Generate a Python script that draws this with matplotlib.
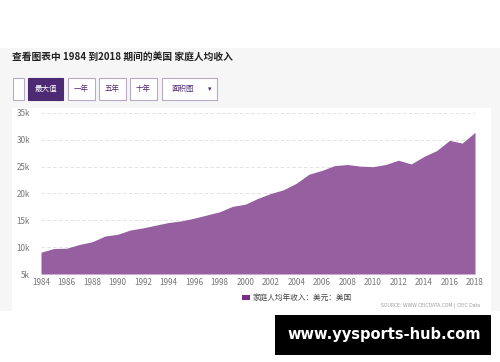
import matplotlib
matplotlib.use("Agg")
import matplotlib.pyplot as plt
from matplotlib.patches import Rectangle

plt.rcParams['font.family'] = ['Noto Sans CJK SC', 'DejaVu Sans']

# Household income per capita, USD
years = list(range(1984, 2019))
income = [9060, 9750, 9800, 10500, 11000, 12060, 12400, 13200, 13600, 14100,
          14600, 14900, 15400, 16000, 16600, 17600, 18000, 19100, 20000, 20700,
          21900, 23600, 24300, 25200, 25400, 25100, 25000, 25400, 26200, 25500,
          26900, 28000, 29900, 29400, 31400]
y_ticks = [5000, 10000, 15000, 20000, 25000, 30000, 35000]
y_labels = ["5k", "10k", "15k", "20k", "25k", "30k", "35k"]
x_ticks = list(range(1984, 2019, 2))

title = "查看图表中 1984 到2018 期间的美国 家庭人均收入"
buttons = ["", "最大值", "一年", "五年", "十年", "面积图"]
legend_label = "家庭人均年收入：美元：美国"
source = "SOURCE: WWW.CEICDATA.COM | CEIC Data"
watermark = "www.yysports-hub.com"

W, H = 500, 362
fig = plt.figure(figsize=(W / 100, H / 100), dpi=100)
fig.patch.set_facecolor("white")

# background layer in pixel coordinates
bg = fig.add_axes([0, 0, 1, 1])
bg.set_xlim(0, W)
bg.set_ylim(H, 0)
bg.axis("off")
bg.add_patch(Rectangle((0, 48), W, 263, facecolor="#f6f6f6", edgecolor="none"))
bg.add_patch(Rectangle((12, 108), 479, 203, facecolor="white", edgecolor="none"))
bg.text(12, 57, title, fontsize=7.0, fontweight="bold", color="#222222", va="center")

btn_x = [(12.5, 24), (28, 63), (68, 95), (99, 126), (130, 157), (162, 217)]
for (x0, x1), lab in zip(btn_x, buttons):
    active = lab == "最大值"
    bg.add_patch(Rectangle((x0, 77.5), x1 - x0, 22.5,
                           facecolor="#4e2a74" if active else "white",
                           edgecolor="#4e2a74" if active else "#b9a9c9", lw=0.8))
    if lab == "面积图":
        bg.text(x0 + 10, 89, lab, fontsize=5.4, color="#4e2a74", va="center")
        bg.text(x1 - 7, 89, "▾", fontsize=5, color="#4e2a74", va="center",
                ha="center", family="DejaVu Sans")
    elif lab:
        bg.text((x0 + x1) / 2, 89, lab, fontsize=5.4,
                color="white" if active else "#4e2a74", va="center", ha="center")

# legend and source
bg.add_patch(Rectangle((242, 295), 8, 5, facecolor="#7a2e8c", edgecolor="none"))
bg.text(253, 297.5, legend_label, fontsize=5.5, color="#444444", va="center")
bg.text(480, 305, source, fontsize=3.3, color="#999999", va="center", ha="right",
        family="DejaVu Sans")

# watermark box
bg.add_patch(Rectangle((275, 315), 216, 40, facecolor="black", edgecolor="none"))
bg.text(384, 335, watermark, fontsize=10.5, fontweight="bold", color="white",
        va="center", ha="center", family="DejaVu Sans")

# chart
ax = fig.add_axes([41 / W, (H - 274) / H, (475 - 41) / W, (274 - 113) / H])
ax.set_facecolor("none")
ax.fill_between(years, income, 5000, color="#965fa0", lw=0, zorder=2)
ax.set_xlim(1984, 2018)
ax.set_ylim(5000, 35000)
ax.set_yticks(y_ticks)
ax.set_yticklabels(y_labels)
ax.set_xticks(x_ticks)
ax.tick_params(length=0, labelsize=5.8, labelcolor="#777777", pad=3)
ax.tick_params(axis="y", pad=8)
for s in ax.spines.values():
    s.set_visible(False)
for v in y_ticks[1:]:
    ax.axhline(v, color="#dddddd", lw=0.6, ls=(0, (4, 3)), zorder=1)

fig.savefig("out.png", dpi=100)
